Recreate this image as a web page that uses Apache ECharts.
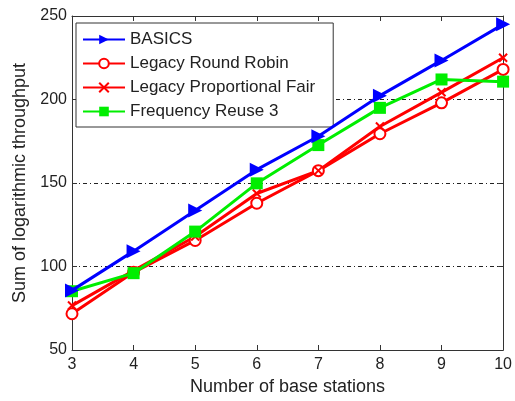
<!DOCTYPE html>
<html>
<head>
<meta charset="utf-8">
<script src="https://cdn.jsdelivr.net/npm/echarts@6/dist/echarts.min.js"></script>
<style>html,body{margin:0;padding:0;background:#fff;}#c{width:515px;height:401px;}</style>
</head>
<body>
<div id="c"></div>
<script>
var stations = [3, 4, 5, 6, 7, 8, 9, 10];
var basics = [85.7, 109.2, 133.6, 158, 178, 202.3, 223.4, 245];
var roundRobin = [71.7, 96.5, 115.6, 137.9, 157.4, 179.5, 198, 218];
var propFair = [76.6, 97.5, 118, 143.7, 157.4, 183.8, 204.3, 225];
var reuse3 = [85.2, 96, 120.9, 149.8, 172.7, 195, 212, 210.7];
var seriesNames = ['BASICS', 'Legacy Round Robin', 'Legacy Proportional Fair', 'Frequency Reuse 3'];

function pairs(vals) { return stations.map(function (s, i) { return [s, vals[i]]; }); }

var font = 'Liberation Sans, Arial, Helvetica, sans-serif';
var txt = '#222';
var chart = echarts.init(document.getElementById('c'), null, { renderer: 'canvas' });
chart.setOption({
  animation: false,
  backgroundColor: '#fff',
  grid: { left: 72, right: 10, top: 16, bottom: 47 },
  legend: {
    orient: 'vertical', left: 76, top: 23,
    backgroundColor: '#fff', borderColor: '#333', borderWidth: 1,
    padding: [8, 18, 7, 6],
    itemWidth: 42, itemHeight: 12, itemGap: 7,
    textStyle: { fontFamily: font, fontSize: 17, color: txt, padding: [0, 0, 0, 0] },
    data: seriesNames
  },
  xAxis: [{
    type: 'value', min: 3, max: 10, interval: 1,
    name: 'Number of base stations', nameLocation: 'middle', nameGap: 28,
    nameTextStyle: { fontFamily: font, fontSize: 18, color: txt },
    axisLine: { lineStyle: { color: '#333', width: 1 } },
    axisTick: { inside: true, length: 5, lineStyle: { color: '#333' } },
    axisLabel: { fontFamily: font, fontSize: 16, color: txt, margin: 7 },
    splitLine: { show: false }
  }, {
    type: 'value', min: 3, max: 10, interval: 1, position: 'top',
    axisLine: { lineStyle: { color: '#333', width: 1 } },
    axisTick: { inside: true, length: 5, lineStyle: { color: '#333' } },
    axisLabel: { show: false }, splitLine: { show: false }
  }],
  yAxis: [{
    type: 'value', min: 50, max: 250, interval: 50,
    name: 'Sum of logarithmic throughput', nameLocation: 'middle', nameGap: 37,
    nameTextStyle: { fontFamily: font, fontSize: 18, color: txt },
    axisLine: { show: true, lineStyle: { color: '#333', width: 1 } },
    axisTick: { show: true, inside: true, length: 5, lineStyle: { color: '#333' } },
    axisLabel: { fontFamily: font, fontSize: 16, color: txt, margin: 5 },
    splitLine: { show: true, lineStyle: { color: '#222', width: 1, type: [4, 3, 1, 3] } }
  }, {
    type: 'value', min: 50, max: 250, interval: 50, position: 'right',
    axisLine: { show: true, lineStyle: { color: '#333', width: 1 } },
    axisTick: { show: true, inside: true, length: 5, lineStyle: { color: '#333' } },
    axisLabel: { show: false }, splitLine: { show: false }
  }],
  series: [{
    name: seriesNames[0], type: 'line', data: pairs(basics),
    symbol: 'path://M0,0L10,5L0,10Z', symbolSize: 14,
    lineStyle: { color: '#0000ff', width: 3 },
    itemStyle: { color: '#0000ff' }, z: 5
  }, {
    name: seriesNames[1], type: 'line', data: pairs(roundRobin),
    symbol: 'emptyCircle', symbolSize: 11, showAllSymbol: true,
    lineStyle: { color: '#ff0000', width: 3 },
    itemStyle: { color: '#ff0000', borderColor: '#ff0000', borderWidth: 2 }, z: 3
  }, {
    name: seriesNames[2], type: 'line', data: pairs(propFair),
    symbol: 'path://M0,0L10,10M10,0L0,10', symbolSize: 8,
    lineStyle: { color: '#ff0000', width: 3 },
    itemStyle: { color: '#ff0000', borderColor: '#ff0000', borderWidth: 2 }, z: 3
  }, {
    name: seriesNames[3], type: 'line', data: pairs(reuse3),
    symbol: 'rect', symbolSize: 12,
    lineStyle: { color: '#00ee00', width: 3 },
    itemStyle: { color: '#00ee00' }, z: 4
  }]
});
</script>
</body>
</html>
